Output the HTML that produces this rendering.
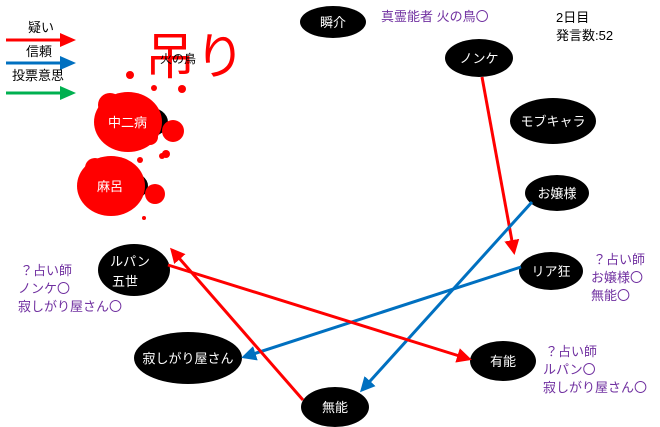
<!DOCTYPE html>
<html><head><meta charset="utf-8"><style>
body{margin:0;background:#fff;}
svg{display:block;font-family:"Liberation Sans","Noto Sans CJK JP",sans-serif;}
</style></head><body>
<svg width="660" height="427" viewBox="0 0 660 427" xmlns="http://www.w3.org/2000/svg">
<defs>
<marker id="ar" markerWidth="5" markerHeight="5" refX="4" refY="2.5" orient="auto" markerUnits="strokeWidth"><path d="M0,0 L5,2.5 L0,5 z" fill="#f00"/></marker>
<marker id="ab" markerWidth="5" markerHeight="5" refX="4" refY="2.5" orient="auto" markerUnits="strokeWidth"><path d="M0,0 L5,2.5 L0,5 z" fill="#0070c0"/></marker>
</defs>
<!-- legend -->
<text x="28" y="32" font-size="13">疑い</text>
<line x1="6" y1="40" x2="62" y2="40" stroke="#f00" stroke-width="3"/><path d="M60,33 L76,40 L60,47z" fill="#f00"/>
<text x="26" y="56" font-size="13">信頼</text>
<line x1="6" y1="63" x2="62" y2="63" stroke="#0070c0" stroke-width="3"/><path d="M60,56 L76,63 L60,70z" fill="#0070c0"/>
<text x="12" y="80" font-size="13">投票意思</text>
<line x1="6" y1="93" x2="62" y2="93" stroke="#00b050" stroke-width="3"/><path d="M60,86 L76,93 L60,100z" fill="#00b050"/>
<!-- hanged -->
<text x="145" y="74" font-size="50" fill="#f00">吊り</text>
<text x="160" y="63" font-size="12">火の鳥</text>
<ellipse cx="148" cy="122" rx="20" ry="15"/>
<ellipse cx="130" cy="186" rx="18" ry="14"/>
<g fill="#f00">
<ellipse cx="128" cy="122" rx="34" ry="30"/><circle cx="110" cy="105" r="12"/><circle cx="150" cy="137" r="8"/><circle cx="173" cy="131" r="11"/>
<circle cx="130" cy="75" r="4"/><circle cx="154" cy="88" r="3"/><circle cx="182" cy="89" r="4"/><circle cx="166" cy="154" r="4"/><circle cx="162" cy="156" r="3"/>
<ellipse cx="111" cy="186" rx="34" ry="30"/><circle cx="95" cy="168" r="10"/><circle cx="155" cy="194" r="10"/><circle cx="144" cy="218" r="2"/><circle cx="140" cy="160" r="3"/>
</g>
<text x="108" y="127" font-size="13" fill="#fff">中二病</text>
<text x="97" y="191" font-size="13" fill="#fff">麻呂</text>
<!-- nodes -->
<g fill="#000">
<ellipse cx="333" cy="22" rx="33" ry="16"/>
<ellipse cx="479" cy="58" rx="34" ry="19"/>
<ellipse cx="553" cy="121" rx="43" ry="23"/>
<ellipse cx="557" cy="193" rx="32" ry="18"/>
<ellipse cx="551" cy="271" rx="32" ry="19"/>
<ellipse cx="134" cy="270" rx="36" ry="26"/>
<ellipse cx="188" cy="358" rx="54" ry="26"/>
<ellipse cx="503" cy="361" rx="33" ry="20"/>
<ellipse cx="335" cy="407" rx="34" ry="20"/>
</g>
<g fill="#fff" font-size="13" text-anchor="middle">
<text x="333" y="27">瞬介</text>
<text x="479" y="63">ノンケ</text>
<text x="553" y="126">モブキャラ</text>
<text x="557" y="198">お嬢様</text>
<text x="551" y="276">リア狂</text>
<text x="130" y="266">ルパン</text>
<text x="125" y="286">五世</text>
<text x="188" y="363">寂しがり屋さん</text>
<text x="503" y="366">有能</text>
<text x="335" y="412">無能</text>
</g>
<!-- arrows -->
<line x1="482" y1="77" x2="514" y2="252" stroke="#f00" stroke-width="3" marker-end="url(#ar)"/>
<line x1="532" y1="202" x2="362" y2="390" stroke="#0070c0" stroke-width="3" marker-end="url(#ab)"/>
<line x1="521" y1="267" x2="244" y2="357" stroke="#0070c0" stroke-width="3" marker-end="url(#ab)"/>
<line x1="168" y1="265" x2="469" y2="359" stroke="#f00" stroke-width="3" marker-end="url(#ar)"/>
<line x1="303" y1="400" x2="172" y2="250" stroke="#f00" stroke-width="3" marker-end="url(#ar)"/>
<!-- text -->
<text x="381" y="21" font-size="13" fill="#7030a0">真霊能者 火の鳥〇</text>
<text x="556" y="22" font-size="13">2日目</text>
<text x="556" y="40" font-size="13">発言数:52</text>
<g fill="#7030a0" font-size="13">
<text x="20" y="275">？占い師</text><text x="18" y="293">ノンケ〇</text><text x="18" y="311">寂しがり屋さん〇</text>
<text x="593" y="264">？占い師</text><text x="591" y="282">お嬢様〇</text><text x="591" y="300">無能〇</text>
<text x="545" y="356">？占い師</text><text x="543" y="374">ルパン〇</text><text x="543" y="392">寂しがり屋さん〇</text>
</g>
</svg>
</body></html>
